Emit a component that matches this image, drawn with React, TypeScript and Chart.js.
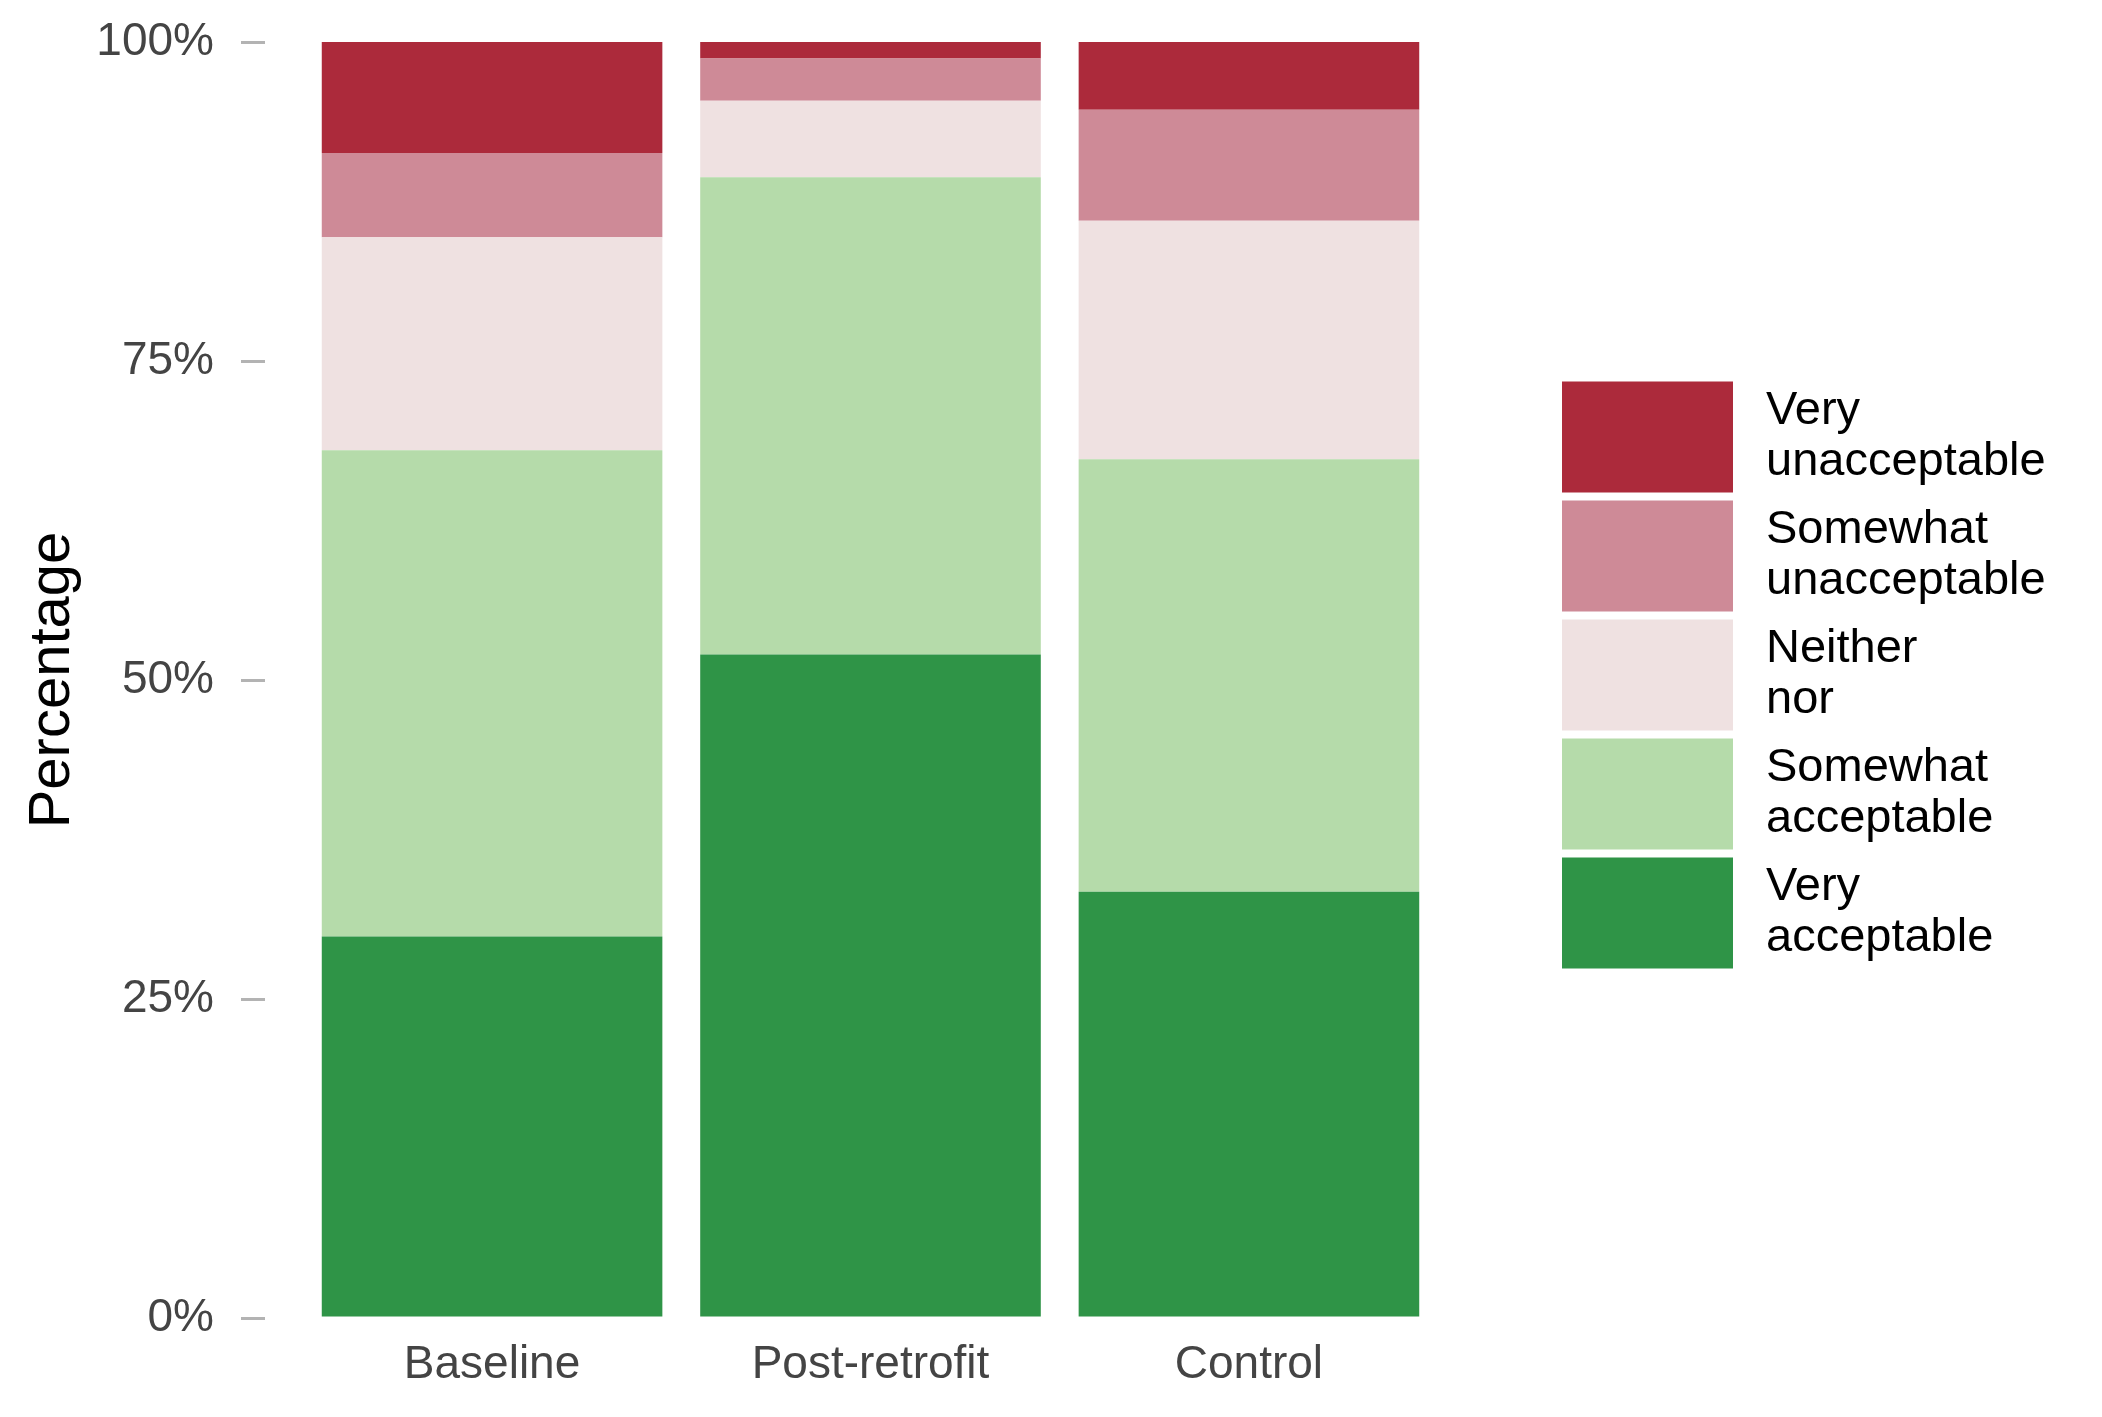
import React, { useEffect, useRef } from 'react';
import { Chart, registerables } from 'chart.js';

Chart.register(...registerables);

// ---- data ----
const categories: string[] = ['Baseline', 'Post-retrofit', 'Control'];
const seriesNames: string[] = [
  'Very acceptable',
  'Somewhat acceptable',
  'Neither nor',
  'Somewhat unacceptable',
  'Very unacceptable',
];
const legendLines: string[][] = [
  ['Very', 'acceptable'],
  ['Somewhat', 'acceptable'],
  ['Neither', 'nor'],
  ['Somewhat', 'unacceptable'],
  ['Very', 'unacceptable'],
];
const veryAcceptable: number[] = [29.9, 52.0, 33.4];
const somewhatAcceptable: number[] = [38.1, 37.4, 33.9];
const neitherNor: number[] = [16.7, 6.0, 18.7];
const somewhatUnacceptable: number[] = [6.6, 3.3, 8.7];
const veryUnacceptable: number[] = [8.7, 1.3, 5.3];
const yTicks: number[] = [0, 25, 50, 75, 100];
const seriesColors: string[] = ['#2f9447', '#b5dbaa', '#efe1e1', '#ce8a97', '#ac2a3b'];

const FONT = "'Liberation Sans', Arial, Helvetica, sans-serif";

const sideLegend = {
  id: 'sideLegend',
  afterDraw(chart: any) {
    const { ctx, chartArea } = chart;
    const items = chart.data.datasets
      .map((ds: any, i: number) => ({ lines: legendLines[i], color: ds.backgroundColor }))
      .reverse();
    const boxW = 171;
    const boxH = 111;
    const gap = 8;
    const total = items.length * boxH + (items.length - 1) * gap;
    const top0 = (chartArea.top + chartArea.bottom) / 2 - total / 2 - 5;
    const x0 = chartArea.right + 86;
    ctx.save();
    ctx.font = `47px ${FONT}`;
    ctx.textAlign = 'left';
    ctx.textBaseline = 'middle';
    items.forEach((it: any, i: number) => {
      const y = top0 + i * (boxH + gap);
      ctx.fillStyle = it.color;
      ctx.fillRect(x0, y, boxW, boxH);
      ctx.fillStyle = '#000';
      const cy = y + boxH / 2;
      ctx.fillText(it.lines[0], x0 + boxW + 33, cy - 25.5);
      ctx.fillText(it.lines[1], x0 + boxW + 33, cy + 25.5);
    });
    ctx.restore();
  },
};

export default function App() {
  const canvasRef = useRef<HTMLCanvasElement | null>(null);

  useEffect(() => {
    const seriesValues = [veryAcceptable, somewhatAcceptable, neitherNor, somewhatUnacceptable, veryUnacceptable];
    const chart = new Chart(canvasRef.current as HTMLCanvasElement, {
      type: 'bar',
      data: {
        datasets: seriesNames.map((name, si) => ({
          label: name,
          data: seriesValues[si].map((v, ci) => ({ x: ci, y: v })),
          backgroundColor: seriesColors[si],
          borderWidth: 0,
          barPercentage: 0.9,
          categoryPercentage: 1.0,
        })),
      },
      options: {
        animation: false,
        responsive: false,
        devicePixelRatio: 1,
        layout: { padding: { top: 42, left: 0, right: 626, bottom: 0 } },
        plugins: {
          legend: { display: false },
          tooltip: { enabled: false },
        },
        scales: {
          x: {
            type: 'linear',
            min: -0.6,
            max: 2.6,
            offset: false,
            stacked: true,
            grid: { display: false, drawTicks: false, offset: false },
            border: { display: false },
            afterBuildTicks: (axis: any) => {
              axis.ticks = categories.map((_, i) => ({ value: i }));
            },
            afterFit: (scale: any) => {
              scale.height = 99;
              scale.paddingLeft = 0;
              scale.paddingRight = 0;
            },
            ticks: {
              autoSkip: false,
              maxRotation: 0,
              padding: 20,
              color: '#444444',
              font: { family: FONT, size: 46 },
              callback: (v: any) => categories[Math.round(Number(v))] ?? '',
            },
          },
          y: {
            type: 'linear',
            min: 0,
            max: 100,
            stacked: true,
            afterBuildTicks: (axis: any) => {
              axis.ticks = yTicks.map((v) => ({ value: v }));
            },
            afterFit: (scale: any) => {
              scale.width = 265;
              scale.paddingTop = 0;
              scale.paddingBottom = 0;
            },
            grid: {
              display: true,
              drawOnChartArea: false,
              drawTicks: true,
              tickLength: 24,
              color: '#b3b3b3',
              lineWidth: 3,
            },
            border: { display: false },
            ticks: {
              padding: 27,
              color: '#444444',
              font: { family: FONT, size: 46 },
              callback: (v: any) => `${v}%`,
            },
            title: {
              display: true,
              text: 'Percentage',
              color: '#000000',
              font: { family: FONT, size: 58 },
              padding: { top: 18, bottom: 0 },
            },
          },
        },
      },
      plugins: [sideLegend],
    } as any);
    return () => chart.destroy();
  }, []);

  return (
    <div style={{ position: 'absolute', left: 0, top: 0, width: 2102, height: 1417, background: '#fff' }}>
      <canvas ref={canvasRef} width={2102} height={1417} />
    </div>
  );
}
